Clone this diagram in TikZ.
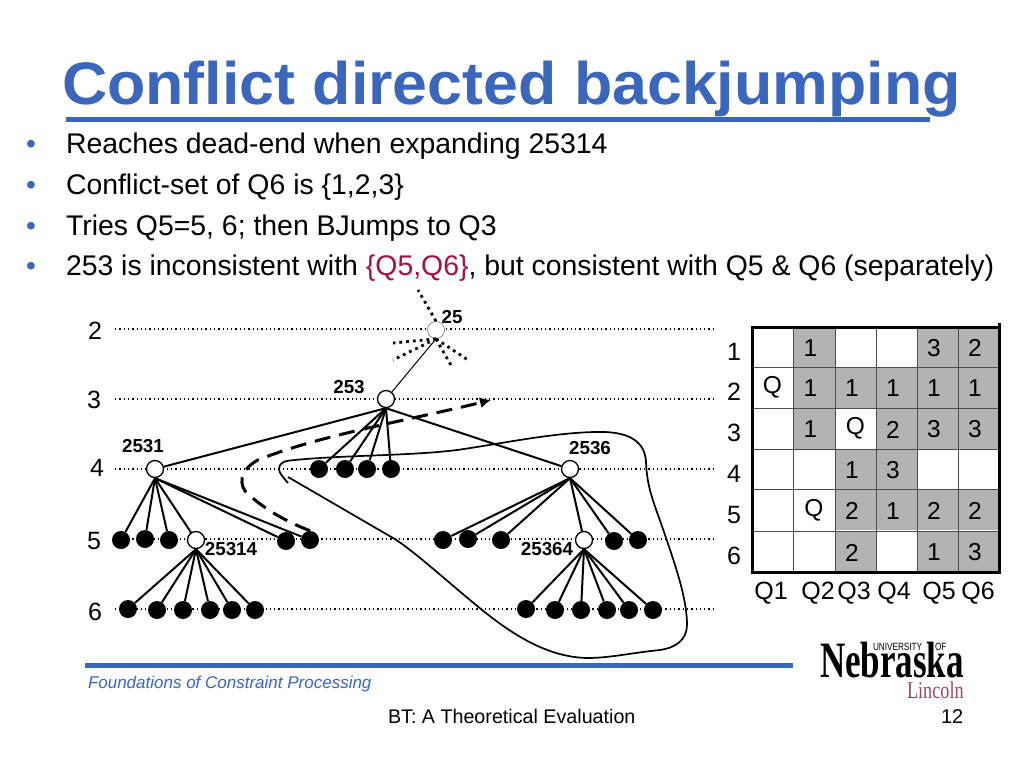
\documentclass[tikz,border=0pt]{standalone}
\usepackage{fontspec}
\setmainfont{Liberation Sans}
\newfontfamily\logoserif{Liberation Serif}
\usetikzlibrary{arrows.meta}
\definecolor{titleblue}{HTML}{3A66BC}
\definecolor{crimson}{HTML}{A50F45}
\definecolor{cellgray}{HTML}{B3B3B3}
\definecolor{lincoln}{HTML}{9A4A5E}
\newcommand{\fs}[1]{\fontsize{#1}{#1}\selectfont}
\tikzset{
  x=1pt,y=-1pt,
  txt/.style={inner sep=0,outer sep=0,anchor=base west},
  ctr/.style={inner sep=0,outer sep=0,anchor=center},
  title/.style={txt,font=\fs{60}\bfseries,text=titleblue,xscale=1.045},
  bul/.style={txt,font=\fs{28.4}},
  bdot/.style={txt,font=\fs{28},text=titleblue},
  lvl/.style={ctr,font=\fs{25}},
  tag/.style={ctr,font=\fs{18.8}\bfseries},
  open/.style={circle,draw=black,fill=white,line width=1.3pt,minimum size=17pt,inner sep=0},
  opengray/.style={circle,draw=gray,fill=white,line width=.7pt,minimum size=17pt,inner sep=0},
  leaf/.style={circle,fill=black,minimum size=18pt,inner sep=0},
  level/.style={line width=1.3pt,dash pattern=on 1.3pt off 3pt},
  edge/.style={line width=2pt},
  cut/.style={line width=2.8pt,dash pattern=on 2.8pt off 4pt},
  jump/.style={line width=3pt,dash pattern=on 16pt off 9pt},
  bound/.style={line width=1.7pt},
  cell/.style={minimum width=41.2pt,minimum height=40.8pt,inner sep=0,anchor=center},
  fill1/.style={cell,fill=cellgray},
  mark1/.style={ctr,font=\fs{24.5},xshift=-3.5pt,yshift=-1pt},
  queen/.style={ctr,font=\fs{24.5}},
  rule/.style={line width=5pt,draw=titleblue},
  gridline/.style={line width=1pt,draw=black!70},
  gridframe/.style={line width=3pt,draw=black}
}
\begin{document}
\begin{tikzpicture}
\useasboundingbox (0,0) rectangle (1024,768);
\fill[white] (0,0) rectangle (1024,768);
% title and rules
\coordinate (ra) at (66,119); \coordinate (rb) at (930,119);
\draw[rule] (ra) -- (rb);
\node[title] (ttl) at (62,104) {Conflict directed backjumping};
\foreach \yy/\nm in {153/a,194/b,235/c,275/d}{\node[bdot] (dot\nm) at (26,\yy) {•};}
\node[bul] (l1) at (66,153) {Reaches dead-end when expanding 25314};
\node[bul] (l2) at (66,194) {Conflict-set of Q6 is \{1,2,3\}};
\node[bul] (l3) at (66,235) {Tries Q5=5, 6; then BJumps to Q3};
\node[bul] (l4) at (66,275) {253 is inconsistent with \textcolor{crimson}{\{Q5,Q6\}}, but consistent with Q5 \& Q6 (separately)};
% levels
\foreach \n/\yy/\xx/\ty in {2/329/95/331,3/399/94/400,4/469/97/468,5/539/94/541,6/609/95/612}{
  \node[lvl] (lv\n) at (\xx,\ty) {\n};
  \coordinate (la\n) at (115,\yy); \coordinate (lb\n) at (715,\yy);
  \draw[level] (la\n) -- (lb\n);
}
% tree nodes
\node[opengray] (n25) at (436,330) {};
\node[open] (n253) at (386,399) {};
\node[open] (n2531) at (155,469) {};
\node[open] (n2536) at (570,469) {};
\node[open] (n25314) at (196,540) {};
\node[open] (n25364) at (584,540) {};
\foreach \nm/\xx/\yy in {a/121/540,b/145/539,c/169/540,d/286/541,e/310/540,
  f/319/469,g/345/469,h/367/469,i/391/469,
  j/128/609,k/157/610,l/183/610,m/210/610,n/232/610,o/255/610,
  p/443/540,q/468/539,r/501/540,s/614/541,t/638/540,
  u/526/609,v/555/610,w/581/610,x/607/610,y/629/610,z/653/610}{
  \node[leaf] (\nm) at (\xx,\yy) {};
}
% edges
\draw[line width=1pt] (n25.south) -- (n253);
\foreach \c in {f,g,h,i}{\draw[edge] (n253.south) -- (\c);}
\draw[edge] (n253.south) -- (n2531);
\draw[edge] (n253.south) -- (n2536);
\foreach \c in {a,b,c,d,e,n25314}{\draw[edge] (n2531.south) -- (\c);}
\foreach \c in {j,k,l,m,n,o}{\draw[edge] (n25314.south) -- (\c);}
\foreach \c in {p,q,r,s,t,n25364}{\draw[edge] (n2536.south) -- (\c);}
\foreach \c in {u,v,w,x,y,z}{\draw[edge] (n25364.south) -- (\c);}
% cut branches at 25
\coordinate (c1) at (418,290); \coordinate (c2) at (393,343); \coordinate (c3) at (393,360);
\coordinate (c4) at (452,367); \coordinate (c5) at (468,360);
\draw[cut] (n25.north) -- (c1);
\foreach \c in {c2,c3,c4,c5}{\draw[cut] (n25.south) -- (\c);}
% tags
\node[tag] (t25) at (452,317) {25};
\node[tag] (t253) at (349,387) {253};
\node[tag] (t2531) at (143,446) {2531};
\node[tag] (t2536) at (590,448) {2536};
\node[tag] (t25314) at (231,549) {25314};
\node[tag] (t25364) at (547,549) {25364};
% backjump path
\coordinate (jb) at (491,400);
\draw[jump,-{Latex[length=11pt,width=11pt]}] (e.north) .. controls (285,521) and (262,508) .. (245,491)
  .. controls (238,480) and (243,468) .. (258,460)
  .. controls (320,435) and (410,420) .. (jb);
% boundary curve
\coordinate (ba) at (288,483); \coordinate (bz) at (288,477);
\draw[bound] (ba) .. controls (283,477) and (279,473) .. (279,469)
  .. controls (279,464) and (283,461) .. (290,460.5)
  .. controls (340,455) and (410,456) .. (457,450)
  .. controls (500,444) and (560,431) .. (605,432)
  .. controls (630,433) and (645,442) .. (646,462)
  .. controls (647,490) and (655,505) .. (665,535)
  .. controls (677,570) and (687,600) .. (687,625)
  .. controls (687,640) and (675,648) .. (660,650)
  .. controls (630,653) and (610,658) .. (587,658)
  .. controls (540,657) and (500,625) .. (470,600)
  .. controls (440,575) and (410,548) .. (393,538)
  -- (bz);
% board
\foreach \r/\yy in {1/347,2/387.5,3/428.5,4/469,5/510,6/551.5}{
  \foreach \c/\xx in {1/772.5,2/814,3/855.5,4/896.5,5/937.5,6/978.5}{
    \node[cell] (b\r\c) at (\xx,\yy) {};
  }
}
\foreach \nm/\t in {b12/1,b15/3,b16/2,b22/1,b23/1,b24/1,b25/1,b26/1,b32/1,b34/2,b35/3,b36/3,b43/1,b44/3,b53/2,b54/1,b55/2,b56/2,b63/2,b65/1,b66/3}{
  \node[fill1] at (\nm) {};
  \node[mark1] at (\nm) {\t};
}
\node[queen] at (b21) {Q};
\node[queen] at (b33) {Q};
\node[queen] at (b52) {Q};
\coordinate (g1) at (752,327); \coordinate (g2) at (999,572);
\foreach \xx/\nm in {793.5/a,835/b,876/c,917/d,958/e}{
  \coordinate (vt\nm) at (\xx,327); \coordinate (vb\nm) at (\xx,572);
  \draw[gridline] (vt\nm) -- (vb\nm);
}
\foreach \yy/\nm in {367/a,408/b,449/c,489/d,531/e}{
  \coordinate (hl\nm) at (752,\yy); \coordinate (hr\nm) at (999,\yy);
  \draw[gridline] (hl\nm) -- (hr\nm);
}
\draw[gridframe] (g1) rectangle (g2);
\coordinate (gt) at (999,323); \coordinate (gu) at (999,330);
\draw[gridframe] (gt) -- (gu);
\foreach \n/\yy in {1/352,2/392,3/433,4/474,5/515,6/556}{\node[lvl] (rn\n) at (734,\yy) {\n};}
\foreach \n/\xx in {1/771,2/818,3/854,4/894,5/939,6/978}{\node[lvl] (cn\n) at (\xx,593) {Q\n};}
% footer
\coordinate (fa) at (85,665); \coordinate (fb) at (793,665);
\draw[rule] (fa) -- (fb);
\node[txt,font=\fs{17}\itshape,text=titleblue] (fnd) at (88,688) {Foundations of Constraint Processing};
\node[txt,font=\fs{19.7}] (bt) at (388,723.5) {BT: A Theoretical Evaluation};
\node[txt,font=\fs{20}] (pg) at (941,723.5) {12};
% logo
\node[txt,font=\logoserif\bfseries\fs{51},xscale=.686] (neb) at (820,677) {Nebraska};
\node[txt,font=\fs{10.5},xscale=.78] (uni) at (873,650) {UNIVERSITY};
\node[txt,font=\fs{10.5},xscale=.78] (of) at (935,650) {OF};
\node[txt,font=\logoserif\fs{24},text=lincoln,xscale=.76] (lin) at (907,698) {Lincoln};
\end{tikzpicture}
\end{document}
